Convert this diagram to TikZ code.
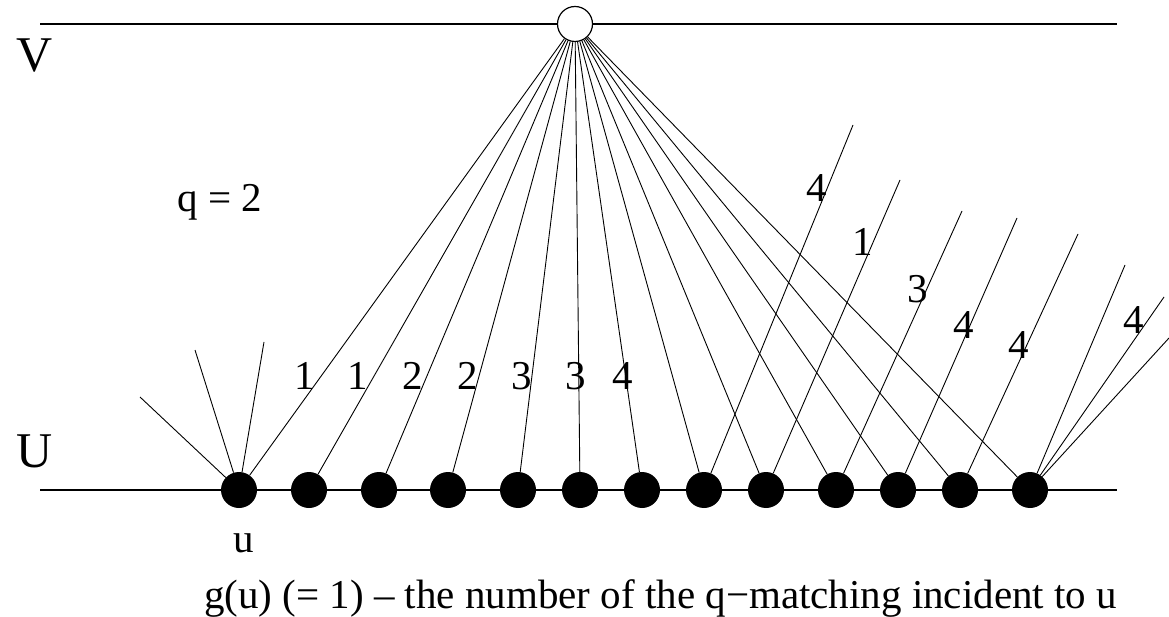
\documentclass[tikz,border=0pt]{standalone}
\usepackage{fontspec}
\setmainfont{Liberation Serif}
\begin{document}
\begin{tikzpicture}[x=1pt,y=-1pt,
  thin line/.style={line width=0.9pt},
  axis line/.style={line width=1.2pt},
  udot/.style={circle,fill=black,minimum size=36pt,inner sep=0pt},
  vdot/.style={circle,draw,fill=white,line width=1.2pt,minimum size=35pt,inner sep=0pt},
  lbl/.style={font=\fontsize{41}{48}\selectfont,inner sep=0pt,anchor=base},
  big/.style={font=\fontsize{50}{60}\selectfont,inner sep=0pt,anchor=base}]
\useasboundingbox (0,0) rectangle (1169,617);
% horizontal lines
\coordinate (VL) at (40,24);
\coordinate (VR) at (1117,24);
\coordinate (UL) at (40,490);
\coordinate (UR) at (1117,490);
\draw[axis line] (VL) -- (VR);
\draw[axis line] (UL) -- (UR);
% nodes
\node[vdot] (v) at (575,24) {};
\foreach \x [count=\i] in {239,309,379,448,518,580,642,704,766,836,898,960,1030}
  \node[udot] (d\i) at (\x,490) {};
% edges to v
\foreach \i in {1,...,13}
  \draw[thin line] (v) -- (d\i);
% free ends
\coordinate (a1) at (140,397);
\coordinate (a2) at (195,350);
\coordinate (a3) at (264,342);
\coordinate (e8) at (853,125);
\coordinate (e9) at (900,180);
\coordinate (e10) at (962,211);
\coordinate (e11) at (1017,218);
\coordinate (e12) at (1078,234);
\coordinate (b1) at (1125,265);
\coordinate (b2) at (1164,297);
\coordinate (b3) at (1169,338);
\foreach \c in {a1,a2,a3} \draw[thin line] (d1) -- (\c);
\foreach \i in {8,...,12} \draw[thin line] (d\i) -- (e\i);
\foreach \c in {b1,b2,b3} \draw[thin line] (d13) -- (\c);
% labels
\node[big] (V) at (34.5,72) {V};
\node[big] (U) at (34.5,467) {U};
\node[lbl] (q) at (220,212) {q = 2};
\foreach \x/\t [count=\i] in {305/1,358/1,413/2,468/2,522/3,576/3,623/4}
  \node[lbl] (l\i) at (\x,389) {\t};
\node[lbl] (r1) at (817,202) {4};
\node[lbl] (r2) at (863,256) {1};
\node[lbl] (r3) at (918,303) {3};
\node[lbl] (r4) at (964,338) {4};
\node[lbl] (r5) at (1019,358) {4};
\node[lbl] (r6) at (1134,334) {4};
\node[lbl] (u) at (244,552) {u};
\node[lbl,anchor=base west] (cap) at (204,608) {g(u) (= 1) – the number of the q−matching incident to u};
\end{tikzpicture}
\end{document}
